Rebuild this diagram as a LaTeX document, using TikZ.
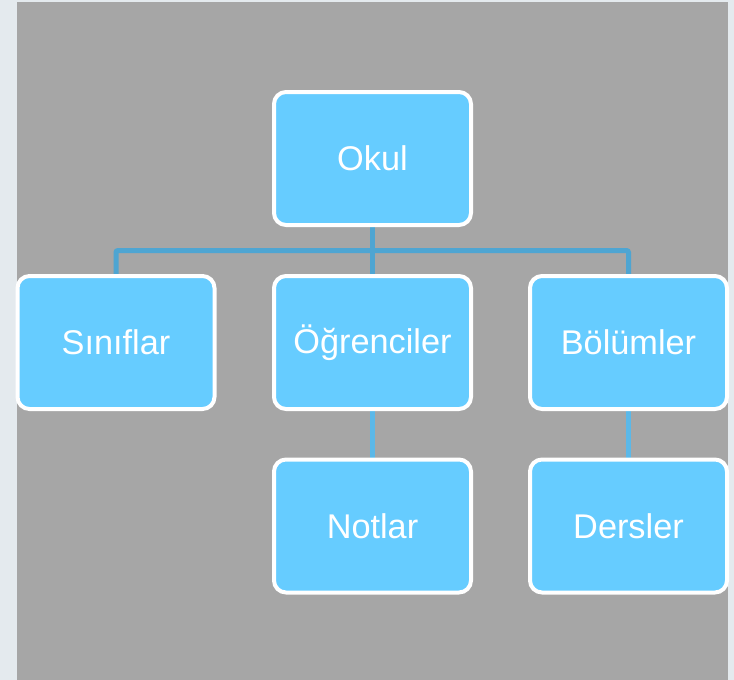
\documentclass[tikz,border=0pt]{standalone}
\usepackage{fontspec}
\setmainfont{Liberation Sans}
\usetikzlibrary{backgrounds}
\definecolor{outerbg}{HTML}{E4EAEE}
\definecolor{panel}{HTML}{A6A6A6}
\definecolor{boxfill}{HTML}{66CCFF}
\definecolor{conncol}{HTML}{4EA5D2}
\definecolor{conncol2}{HTML}{5BB8E8}
\begin{document}
\begin{tikzpicture}[x=1pt,y=-1pt,
  box/.style={draw=white, line width=4pt, fill=boxfill, rounded corners=12pt,
    minimum width=197pt, minimum height=133pt, inner sep=0pt, text=white,
    font=\fontsize{34.3}{40}\selectfont},
  conn/.style={draw=conncol, line width=5pt, rounded corners=2pt},
  conntwo/.style={draw=conncol2, line width=5pt}]
\useasboundingbox (0,0) rectangle (734,680);
\node[box] (okul) at (372.5,158.5) {Okul};
\node[box] (sinif) at (116,342.5) {Sınıflar};
\node[box] (ogr) at (372.5,342.5) {Öğrenciler};
\node[box] (bolum) at (628.5,342.5) {Bölümler};
\node[box] (notlar) at (372.5,526) {Notlar};
\node[box] (ders) at (628.5,526) {Dersler};
\coordinate (bar) at (372.5,250.5);
\begin{scope}[on background layer]
\fill[outerbg] (0,0) rectangle (734,680);
\fill[panel] (17,2) rectangle (728,680);
\draw[conn] (sinif.north) |- (bar) -| (bolum.north);
\draw[conn] (okul.south) -- (ogr.north);
\draw[conntwo] (ogr.south) -- (notlar.north);
\draw[conntwo] (bolum.south) -- (ders.north);
\end{scope}
\end{tikzpicture}
\end{document}
